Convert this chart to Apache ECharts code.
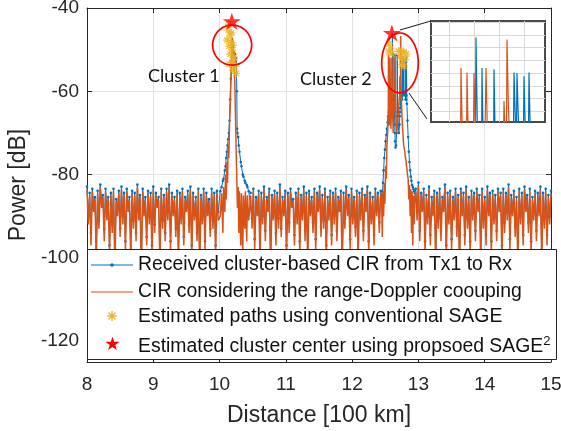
<!DOCTYPE html>
<html>
<head>
<meta charset="utf-8">
<script src="https://cdn.jsdelivr.net/npm/echarts@6/dist/echarts.min.js"></script>
<style>html,body{margin:0;padding:0;background:#fff}#chart{width:561px;height:431px}</style>
</head>
<body>
<div id="chart"></div>
<script>
// ---------------- data ----------------
const sampleStep = 0.02;           // distance step of the noise-floor samples [100 km]
const segAStart = 8.00, segBStart = 10.47, segCStart = 12.96;

// Received cluster-based CIR (blue), noise floor segments
const receivedA = [
-82.9,-90,-84.4,-94,-83.4,-87.5,-85.4,-98,-83.9,-91,
-82.4,-86.5,-84.9,-93,-83.4,-89,-85.4,-97,-84.4,-92,
-83.4,-100,-85.9,-88,-83.9,-93,-82.9,-90,-84.4,-96,
-83.4,-87.5,-85.4,-98,-83.9,-91,-84.4,-94,-82.4,-89,
-84.9,-101,-83.4,-88,-85.4,-95,-83.9,-90,-84.4,-97,
-82.9,-92,-84.4,-86.5,-85.4,-99,-83.4,-91,-84.9,-94,
-83.4,-89,-82.4,-96,-84.4,-88,-85.4,-93,-83.9,-98,
-84.4,-90,-83.4,-95,-85.4,-87.5,-83.9,-92,-82.9,-97,
-84.4,-89,-85.4,-94,-83.4,-100,-84.9,-90,-83.4,-96,
-84.4,-88,-85.9,-93,-83.4,-91,-84.4,-97,-83.9,-89];
const receivedB = [
-84.4,-90.5,-83.4,-95.5,-85.4,-88,-83.9,-98,-84.4,-90,
-82.9,-93.5,-85.4,-87,-83.4,-100,-84.9,-89,-83.9,-94,
-84.4,-90.5,-82.4,-93,-85.4,-88,-83.9,-97,-84.4,-91.5,
-83.4,-86.5,-85.9,-94.5,-84.4,-90,-83.4,-96,-84.9,-89,
-82.9,-93.5,-84.4,-99,-83.9,-88,-85.4,-91.5,-83.4,-95.5,
-84.4,-87,-82.9,-92.5,-84.9,-91,-83.4,-97,-85.4,-89,
-83.9,-94.5,-84.4,-90,-83.4,-93.5,-85.4,-87,-83.9,-100,
-84.4,-90.5,-82.9,-88,-84.9,-95.5,-83.4,-90,-85.4,-92.5,
-83.9,-98,-84.4,-89,-83.4,-93.5,-84.9,-87,-82.9,-96,
-84.4,-90,-85.4,-94.5,-83.4,-88,-84.4,-91.5,-83.9];
const receivedC = [
-83.4,-89,-81.9,-93.5,-84.4,-87,-83.4,-96,-84.9,-90,
-82.9,-94.5,-85.4,-88,-83.9,-99,-84.4,-90.5,-83.4,-93.5,
-85.4,-87,-82.4,-97,-84.4,-90,-83.9,-95.5,-85.4,-89,
-83.4,-92.5,-84.9,-100,-83.4,-88,-84.4,-94.5,-82.9,-90.5,
-85.4,-96,-83.9,-89,-84.4,-93.5,-83.4,-87,-84.9,-98,
-83.4,-90.5,-85.4,-94.5,-82.9,-88,-84.4,-96,-83.9,-90,
-84.9,-93.5,-83.4,-87,-84.4,-97,-83.4,-91.5,-84.4,-89,
-82.4,-95.5,-84.9,-88,-83.9,-92.5,-85.4,-99,-83.4,-90,
-84.4,-94.5,-82.9,-87,-84.9,-91.5,-83.4,-96,-85.4,-89,
-83.9,-93.5,-84.4,-88,-82.9,-98,-84.4,-90.5,-83.4,-94.5,
-84.9,-90,-83.9];

// CIR considering the range-Doppler coupling (orange), noise floor segments
const couplingA = [
-83.5,-92,-85,-97,-84,-89,-86,-101,-84.5,-93,
-83,-88,-85.5,-96,-84,-91,-86,-99,-85,-94,
-84,-103,-86.5,-90,-84.5,-95,-83.5,-92,-85,-98,
-84,-89,-86,-100,-84.5,-93,-85,-96,-83,-91,
-85.5,-104,-84,-90,-86,-97,-84.5,-92,-85,-99,
-83.5,-94,-85,-88,-86,-102,-84,-93,-85.5,-96,
-84,-91,-83,-98,-85,-90,-86,-95,-84.5,-101,
-85,-92,-84,-97,-86,-89,-84.5,-94,-83.5,-100,
-85,-91,-86,-96,-84,-103,-85.5,-92,-84,-98,
-85,-90,-86.5,-95,-84,-93,-85,-99,-84.5,-91];
const couplingB = [
-85,-93,-84,-98,-86,-90,-84.5,-101,-85,-92,
-83.5,-96,-86,-89,-84,-103,-85.5,-91,-84.5,-97,
-85,-93,-83,-95,-86,-90,-84.5,-100,-85,-94,
-84,-88,-86.5,-97,-85,-92,-84,-99,-85.5,-91,
-83.5,-96,-85,-102,-84.5,-90,-86,-94,-84,-98,
-85,-89,-83.5,-95,-85.5,-93,-84,-100,-86,-91,
-84.5,-97,-85,-92,-84,-96,-86,-89,-84.5,-104,
-85,-93,-83.5,-90,-85.5,-98,-84,-92,-86,-95,
-84.5,-101,-85,-91,-84,-96,-85.5,-89,-83.5,-99,
-85,-92,-86,-97,-84,-90,-85,-94,-84.5];
const couplingC = [
-84,-91,-82.5,-96,-85,-89,-84,-99,-85.5,-92,
-83.5,-97,-86,-90,-84.5,-102,-85,-93,-84,-96,
-86,-89,-83,-100,-85,-92,-84.5,-98,-86,-91,
-84,-95,-85.5,-103,-84,-90,-85,-97,-83.5,-93,
-86,-99,-84.5,-91,-85,-96,-84,-89,-85.5,-101,
-84,-93,-86,-97,-83.5,-90,-85,-99,-84.5,-92,
-85.5,-96,-84,-89,-85,-100,-84,-94,-85,-91,
-83,-98,-85.5,-90,-84.5,-95,-86,-102,-84,-92,
-85,-97,-83.5,-89,-85.5,-94,-84,-99,-86,-91,
-84.5,-96,-85,-90,-83.5,-101,-85,-93,-84,-97,
-85.5,-92,-84.5];

// Cluster 1 region (finer sampling)
const peak1Distance = [10.01,10.03,10.05,10.06,10.08,10.09,10.10,10.11,10.12,10.13,10.14,10.15,10.16,10.17,10.18,10.19,10.195,10.20,10.205,10.21,10.215,10.22,10.23,10.24,10.25,10.26,10.265,10.27,10.28,10.29,10.30,10.32,10.33,10.35,10.36,10.38,10.39,10.41,10.42,10.44];
const peak1Received = [-84,-83,-81.5,-81,-79,-78,-76,-74.5,-73,-71.5,-70,-67,-62,-57,-53,-50,-48,-51,-49,-53,-50.5,-52,-51,-53,-52,-60,-69,-70,-71,-73,-74.5,-77,-78,-80,-80.5,-81.5,-82,-82.5,-83,-84];
const peak1Coupling = [-90,-84.5,-94,-83,-89,-80,-86,-77,-82,-73,-76,-68,-64,-58,-53,-47,-50,-48.5,-52,-50,-55,-54,-58,-66,-74,-81,-85,-88,-83,-94,-84,-97,-84.5,-99,-85,-93,-84,-96,-85,-91];

// Cluster 2 region (finer sampling)
const peak2Distance = [12.445,12.455,12.465,12.475,12.485,12.495,12.505,12.515,12.525,12.535,12.543,12.546,12.548,12.554,12.560,12.566,12.570,12.572,12.578,12.585,12.592,12.598,12.600,12.605,12.606,12.608,12.614,12.620,12.626,12.630,12.632,12.638,12.644,12.646,12.648,12.654,12.662,12.670,12.678,12.680,12.686,12.695,12.705,12.715,12.718,12.720,12.725,12.730,12.732,12.738,12.745,12.752,12.758,12.760,12.766,12.770,12.772,12.778,12.790,12.798,12.800,12.806,12.814,12.818,12.820,12.826,12.835,12.845,12.855,12.865,12.875,12.885,12.895,12.905,12.915,12.925,12.935,12.945];
const peak2Received = [-84,-86,-82,-79,-76,-74,-72,-70.5,-69,-67.5,-66,-68,-67,-65,-64,-66,-64,-63,-65,-62,-64,-63,-60,-62,-61,-46.4,-62,-66,-64,-65,-51.2,-66,-68,-70,-72,-73.5,-73,-70,-66,-51.4,-65,-68,-70,-68,-66,-65,-64,-63,-62,-62,-61,-62,-61,-51.9,-60,-60.5,-52,-60,-61,-60.5,-52.5,-62,-62,-61,-51.9,-63,-67,-71,-74.5,-77,-79,-80.5,-81.5,-82.5,-83,-83.5,-84,-84.5];
const peak2Coupling = [-86,-95,-84,-90,-82,-87,-78,-81,-73,-70,-66,-64,-51.2,-63,-68,-66,-65,-51.9,-64,-69,-64,-62,-52,-60,-63,-65,-67,-70,-66,-64,-65,-63,-62,-62,-51.2,-62,-68,-70,-69,-68,-67,-66,-63,-61,-62,-56.4,-62,-61,-46.7,-58,-63,-66,-68,-69,-70,-71,-72,-73,-74,-75,-75.5,-76,-77,-77.5,-78,-78.5,-80,-81,-86,-82.5,-90,-83.5,-94,-84,-97,-85,-92,-85.5];

// Estimated paths using conventional SAGE [distance, power]
const sagePaths = [
  [10.14,-43.9],[10.13,-45.3],[10.18,-46.0],[10.16,-46.5],[10.11,-47.7],[10.17,-48.2],[10.14,-49.2],[10.2,-48.9],
  [10.19,-50.1],[10.16,-51.1],[10.22,-51.8],[10.21,-52.5],[10.19,-53.0],[10.15,-53.5],[10.23,-54.0],[10.2,-54.9],[10.25,-55.7],
  [12.56,-48.6],[12.58,-49.8],[12.555,-50.6],[12.6,-51.0],[12.7,-50.4],[12.74,-50.2],[12.78,-50.6],[12.82,-51.0],
  [12.72,-51.8],[12.76,-52.0],[12.8,-52.4],[12.75,-53.6],[12.78,-54.0]
];
// Estimated cluster centers using proposed SAGE^2
const clusterCenters = [[10.185,-43.2],[12.6,-46.0]];
// Annotation ellipses: [centerDist, centerPower, radiusDist, radiusPower]
const clusterEllipses = [[10.19,-48.9,0.294,4.8],[12.722,-53.2,0.276,7.2]];
// Zoom connector lines: [x1, y1, x2, y2] in data units
const connectorLines = [[12.722,-45.28,13.189,-43.12],[12.857,-60.41,13.129,-66.65]];

const xRange = [8, 15];
const yRange = [-125, -40];
const insetX = [12.428, 12.884];
const insetY = [-59.7, -43.8];

const legendNames = [
  'Received cluster-based CIR from Tx1 to Rx',
  'CIR considering the range-Doppler coouping',
  'Estimated paths using conventional SAGE',
  'Estimated cluster center using propsoed SAGE'
];

// ---------------- build ----------------
function segment(start, vals) { return vals.map((v, i) => [+(start + i * sampleStep).toFixed(3), v]); }
function pairs(dist, vals) { return dist.map((d, i) => [d, vals[i]]); }
const receivedData = [].concat(segment(segAStart, receivedA), pairs(peak1Distance, peak1Received),
  segment(segBStart, receivedB), pairs(peak2Distance, peak2Received), segment(segCStart, receivedC));
const couplingData = [].concat(segment(segAStart, couplingA), pairs(peak1Distance, peak1Coupling),
  segment(segBStart, couplingB), pairs(peak2Distance, peak2Coupling), segment(segCStart, couplingC));

const FONT = "'Liberation Sans', Arial, Helvetica, sans-serif";
const AX = '#262626';
const BLUE = '#0072BD', ORANGE = '#D95319', YELLOW = '#EDB120', RED = '#FF0000';
const ASTERISK = 'path://M5,0L5,10M0,5L10,5M1.46,1.46L8.54,8.54M1.46,8.54L8.54,1.46';
const STAR = 'path://M50,0L61.23,34.55L97.55,34.55L68.16,55.9L79.39,90.45L50,69.1L20.61,90.45L31.84,55.9L2.45,34.55L38.77,34.55Z';

function starPoints(cx, cy, R, r) {
  const p = [];
  for (let k = 0; k < 10; k++) {
    const a = -Math.PI / 2 + k * Math.PI / 5;
    const rr = k % 2 === 0 ? R : r;
    p.push([cx + rr * Math.cos(a), cy + rr * Math.sin(a)]);
  }
  return p;
}

const mainAxisCommon = {
  axisLine: { show: true, onZero: false, lineStyle: { color: AX, width: 1 } },
  axisTick: { show: true, inside: true, length: 5, lineStyle: { color: AX } }
};

const chart = echarts.init(document.getElementById('chart'), null, { renderer: 'canvas' });
const option = {
  animation: false,
  backgroundColor: '#ffffff',
  textStyle: { fontFamily: FONT },
  grid: [
    { left: 87, right: 10, top: 8, bottom: 69, show: false, outerBoundsMode: 'none', containLabel: false },
    { left: 431, top: 21, width: 114, height: 101, show: true, backgroundColor: '#ffffff',
      borderColor: '#4a4a4a', borderWidth: 2, z: 5, outerBoundsMode: 'none', containLabel: false }
  ],
  xAxis: [
    Object.assign({ type: 'value', gridIndex: 0, min: xRange[0], max: xRange[1], interval: 1, position: 'bottom',
      axisLabel: { fontSize: 19, fontFamily: FONT, color: AX, margin: 13 },
      splitLine: { show: true, lineStyle: { color: '#e2e2e2', width: 1 } },
      name: 'Distance [100 km]', nameLocation: 'middle', nameGap: 42,
      nameTextStyle: { fontSize: 23, fontFamily: FONT, color: AX } }, mainAxisCommon),
    Object.assign({ type: 'value', gridIndex: 0, min: xRange[0], max: xRange[1], interval: 1, position: 'top',
      axisLabel: { show: false }, splitLine: { show: false } }, mainAxisCommon),
    { type: 'value', gridIndex: 1, min: insetX[0], max: insetX[1], z: 6,
      axisLine: { show: false }, axisTick: { show: false }, axisLabel: { show: false },
      splitLine: { show: true, showMinLine: false, showMaxLine: false, lineStyle: { color: '#d9d9d9', width: 1 } } }
  ],
  yAxis: [
    Object.assign({ type: 'value', gridIndex: 0, min: yRange[0], max: yRange[1], position: 'left',
      axisLabel: { fontSize: 19, fontFamily: FONT, color: AX, margin: 8,
        formatter: v => (v % 20 === 0 ? String(v) : '') },
      splitLine: { show: true, lineStyle: { color: '#e2e2e2', width: 1 } },
      name: 'Power [dB]', nameLocation: 'middle', nameGap: 55,
      nameTextStyle: { fontSize: 23, fontFamily: FONT, color: AX } }, mainAxisCommon),
    Object.assign({ type: 'value', gridIndex: 0, min: yRange[0], max: yRange[1], position: 'right',
      axisLabel: { show: false }, splitLine: { show: false } }, mainAxisCommon),
    { type: 'value', gridIndex: 1, min: insetY[0], max: insetY[1], splitNumber: 8, z: 6,
      axisLine: { show: false }, axisTick: { show: false }, axisLabel: { show: false },
      splitLine: { show: true, showMinLine: false, showMaxLine: false, lineStyle: { color: '#d9d9d9', width: 1 } } }
  ],
  series: [
    { name: legendNames[0], type: 'line', xAxisIndex: 0, yAxisIndex: 0, data: receivedData, z: 2, silent: true,
      symbol: 'circle', symbolSize: 2.6, showSymbol: true, showAllSymbol: true,
      lineStyle: { color: BLUE, width: 1 }, itemStyle: { color: BLUE } },
    { name: legendNames[1], type: 'line', xAxisIndex: 0, yAxisIndex: 0, data: couplingData, z: 3, silent: true,
      symbol: 'none', lineStyle: { color: ORANGE, width: 1.5 } },
    { name: legendNames[2], type: 'scatter', xAxisIndex: 0, yAxisIndex: 0, data: sagePaths, z: 9, silent: true,
      symbol: ASTERISK, symbolSize: 8,
      itemStyle: { color: 'rgba(0,0,0,0)', borderColor: YELLOW, borderWidth: 1.3 } },
    { name: legendNames[3], type: 'scatter', xAxisIndex: 0, yAxisIndex: 0, data: clusterCenters, z: 11, silent: true,
      symbol: STAR, symbolSize: 18, symbolKeepAspect: true, itemStyle: { color: RED } },
    { type: 'custom', xAxisIndex: 0, yAxisIndex: 0, data: clusterEllipses, z: 10, silent: true, clip: false,
      renderItem: function (params, api) {
        const c = api.coord([api.value(0), api.value(1)]);
        const s = api.size([api.value(2), api.value(3)], [api.value(0), api.value(1)]);
        const pts = [];
        for (let k = 0; k <= 90; k++) {
          const a = k / 90 * 2 * Math.PI;
          pts.push([c[0] + s[0] * Math.cos(a), c[1] + s[1] * Math.sin(a)]);
        }
        return { type: 'polyline', shape: { points: pts }, style: { stroke: RED, lineWidth: 1.7, fill: null } };
      } },
    { type: 'custom', xAxisIndex: 0, yAxisIndex: 0, data: connectorLines, z: 9, silent: true, clip: false,
      renderItem: function (params, api) {
        const a = api.coord([api.value(0), api.value(1)]);
        const b = api.coord([api.value(2), api.value(3)]);
        return { type: 'line', shape: { x1: a[0], y1: a[1], x2: b[0], y2: b[1] }, style: { stroke: '#1a1a1a', lineWidth: 1 } };
      } },
    { type: 'line', xAxisIndex: 2, yAxisIndex: 2, data: receivedData, z: 7, silent: true, symbol: 'none',
      clip: true, lineStyle: { color: BLUE, width: 1.2 } },
    { type: 'line', xAxisIndex: 2, yAxisIndex: 2, data: couplingData, z: 8, silent: true, symbol: 'none',
      clip: true, lineStyle: { color: ORANGE, width: 1.2 } }
  ],
  graphic: [
    { type: 'rect', z: 100, shape: { x: 87.5, y: 249.5, width: 469, height: 110 },
      style: { fill: '#ffffff', stroke: AX, lineWidth: 1 } },
    { type: 'line', z: 101, shape: { x1: 91, y1: 265, x2: 133, y2: 265 }, style: { stroke: BLUE, lineWidth: 1.2 } },
    { type: 'circle', z: 101, shape: { cx: 112, cy: 265, r: 1.8 }, style: { fill: BLUE } },
    { type: 'line', z: 101, shape: { x1: 91, y1: 292, x2: 133, y2: 292 }, style: { stroke: ORANGE, lineWidth: 1.2 } },
    { type: 'line', z: 101, shape: { x1: 112, y1: 311, x2: 112, y2: 321 }, style: { stroke: YELLOW, lineWidth: 1.3 } },
    { type: 'line', z: 101, shape: { x1: 107, y1: 316, x2: 117, y2: 316 }, style: { stroke: YELLOW, lineWidth: 1.3 } },
    { type: 'line', z: 101, shape: { x1: 108.5, y1: 312.5, x2: 115.5, y2: 319.5 }, style: { stroke: YELLOW, lineWidth: 1.3 } },
    { type: 'line', z: 101, shape: { x1: 108.5, y1: 319.5, x2: 115.5, y2: 312.5 }, style: { stroke: YELLOW, lineWidth: 1.3 } },
    { type: 'polygon', z: 101, shape: { points: starPoints(112.5, 344, 7.5, 2.9) }, style: { fill: RED } },
    { type: 'text', z: 101, x: 138, y: 265, style: { text: legendNames[0], fontSize: 19.4, fontFamily: FONT, fill: '#111', align: 'left', verticalAlign: 'middle' } },
    { type: 'text', z: 101, x: 138, y: 292, style: { text: legendNames[1], fontSize: 19.4, fontFamily: FONT, fill: '#111', align: 'left', verticalAlign: 'middle' } },
    { type: 'text', z: 101, x: 138, y: 317, style: { text: legendNames[2], fontSize: 19.4, fontFamily: FONT, fill: '#111', align: 'left', verticalAlign: 'middle' } },
    { type: 'text', z: 101, x: 138, y: 347, style: { text: legendNames[3] + '{sup|2}', fontSize: 19.4, fontFamily: FONT, fill: '#111', align: 'left', verticalAlign: 'middle',
        rich: { sup: { fontSize: 13, fontFamily: FONT, fill: '#111', padding: [0, 0, 12, 0] } } } },
    { type: 'text', z: 50, x: 148, y: 76, style: { text: 'Cluster 1', fontSize: 18, fontFamily: 'Lato, sans-serif', fill: '#111', align: 'left', verticalAlign: 'middle' } },
    { type: 'text', z: 50, x: 300, y: 79, style: { text: 'Cluster 2', fontSize: 18, fontFamily: 'Lato, sans-serif', fill: '#111', align: 'left', verticalAlign: 'middle' } }
  ]
};
chart.setOption(option);
</script>
</body>
</html>
